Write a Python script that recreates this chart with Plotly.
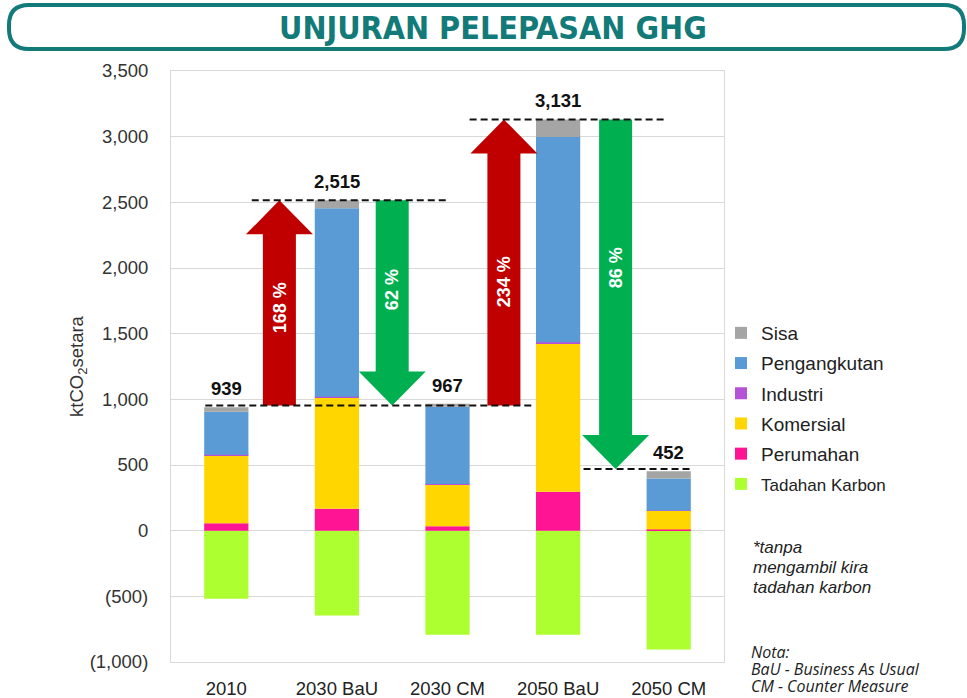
import plotly.graph_objects as go

# ---------------- data ----------------
categories = ["2010", "2030 BaU", "2030 CM", "2050 BaU", "2050 CM"]
tadahan_karbon = [-518, -645, -792, -792, -904]
perumahan = [56, 166, 33, 297, 8]
komersial = [518, 847, 319, 1129, 142]
industri = [4, 6, 4, 8, 3]
pengangkutan = [327, 1436, 588, 1564, 245]
sisa = [34, 60, 23, 133, 54]
totals = [939, 2515, 967, 3131, 452]

# arrows: from value -> to value, with labels
arrow_from = [953, 2515, 953, 3131]
arrow_to = [2515, 953, 3131, 470]
arrow_labels = ["168 %", "62 %", "234 %", "86 %"]

# dashed reference lines (value levels)
ref_levels = [953, 2515, 3131, 470]

y_tickvals = [-1000, -500, 0, 500, 1000, 1500, 2000, 2500, 3000, 3500]
y_ticktext = ["(1,000)", "(500)", "0", "500", "1,000", "1,500", "2,000", "2,500", "3,000", "3,500"]

# ---------------- style ----------------
W, H = 967, 698
ML, MR, MT, MB = 171, 243, 71, 36
PL, PR, PT, PB = ML, W - MR, MT, H - MB
XR = (-0.5, 4.5)
YR = (-1000, 3500)
PX_PER_X = (PR - PL) / (XR[1] - XR[0])
PX_PER_Y = (PB - PT) / (YR[1] - YR[0])


def paper_x(px):
    return (px - PL) / (PR - PL)


def paper_y(py):
    return (PB - py) / (PB - PT)


FONT = "Liberation Sans, Arial, Helvetica, sans-serif"
colors = {
    "Tadahan Karbon": "#adff2f",
    "Perumahan": "#ff1493",
    "Komersial": "#ffd600",
    "Industri": "#b553d6",
    "Pengangkutan": "#5b9bd5",
    "Sisa": "#a5a5a5",
}
RED = "#c00000"
GREEN = "#00b050"
TEAL = "#127a78"

xs = list(range(len(categories)))
series = [
    ("Tadahan Karbon", tadahan_karbon, 6),
    ("Perumahan", perumahan, 5),
    ("Komersial", komersial, 4),
    ("Industri", industri, 3),
    ("Pengangkutan", pengangkutan, 2),
    ("Sisa", sisa, 1),
]

fig = go.Figure()
for name, vals, rank in series:
    label = name
    if name == "Tadahan Karbon":
        label = '<span style="font-size:17px">Tadahan Karbon</span>'
    fig.add_trace(go.Bar(
        x=xs, y=vals, name=label, legendgroup=name, legendrank=rank,
        marker=dict(color=colors[name], line=dict(width=0)),
    ))

shapes = []

# arrows
arrow_x = [0.48, 1.5, 2.51, 3.52]
arrow_col = [RED, GREEN, RED, GREEN]
hs = 16.5 / PX_PER_X
hh = 33.5 / PX_PER_X
hl = 34 / PX_PER_Y
for xc, y0, y1, col in zip(arrow_x, arrow_from, arrow_to, arrow_col):
    d = 1 if y1 > y0 else -1
    yb = y1 - d * hl
    path = (f"M {xc-hs},{y0} L {xc-hs},{yb} L {xc-hh},{yb} L {xc},{y1} "
            f"L {xc+hh},{yb} L {xc+hs},{yb} L {xc+hs},{y0} Z")
    shapes.append(dict(type="path", xref="x", yref="y", path=path,
                       fillcolor=col, line=dict(width=0), layer="above"))

# dashed lines
ref_x = [(-0.19, 2.77), (0.23, 2.0), (2.2, 3.975), (3.23, 4.2)]
for (x0, x1), yv in zip(ref_x, ref_levels):
    shapes.append(dict(type="line", xref="x", yref="y", x0=x0, x1=x1, y0=yv, y1=yv,
                       line=dict(color="#111111", width=2, dash="7px,4px"), layer="above"))

# title frame (rounded rectangle), pixel coords -> paper
fl, fr, ft, fb, rad = 9, 964, 5, 49, 20
pts = (f"M {paper_x(fl+rad)},{paper_y(ft)} L {paper_x(fr-rad)},{paper_y(ft)} "
       f"Q {paper_x(fr)},{paper_y(ft)} {paper_x(fr)},{paper_y(ft+rad)} "
       f"L {paper_x(fr)},{paper_y(fb-rad)} "
       f"Q {paper_x(fr)},{paper_y(fb)} {paper_x(fr-rad)},{paper_y(fb)} "
       f"L {paper_x(fl+rad)},{paper_y(fb)} "
       f"Q {paper_x(fl)},{paper_y(fb)} {paper_x(fl)},{paper_y(fb-rad)} "
       f"L {paper_x(fl)},{paper_y(ft+rad)} "
       f"Q {paper_x(fl)},{paper_y(ft)} {paper_x(fl+rad)},{paper_y(ft)} Z")
shapes.append(dict(type="path", xref="paper", yref="paper", path=pts,
                   line=dict(color=TEAL, width=4), fillcolor="rgba(0,0,0,0)"))

annotations = []
# title
annotations.append(dict(
    text="<b>UNJURAN PELEPASAN GHG</b>", xref="paper", yref="paper",
    x=paper_x(493), y=paper_y(28), xanchor="center", yanchor="middle", showarrow=False,
    font=dict(family="DejaVu Sans Condensed, sans-serif", size=32, color=TEAL)))

# totals
for i, t in enumerate(totals):
    annotations.append(dict(
        text=f"<b>{t:,}</b>", x=i, y=t, xref="x", yref="y", yshift=18.5,
        xanchor="center", yanchor="middle", showarrow=False,
        font=dict(family=FONT, size=18.5, color="#111111")))

# arrow labels
arrow_text_y = [1697, 1833, 1898, 2002]
for xc, yt, lab in zip(arrow_x, arrow_text_y, arrow_labels):
    annotations.append(dict(
        text=f"<b>{lab}</b>", x=xc, y=yt, xref="x", yref="y", textangle=-90,
        xanchor="center", yanchor="middle", showarrow=False,
        font=dict(family=FONT, size=18, color="white")))

# notes
note1 = ["*tanpa", "mengambil kira", "tadahan karbon"]
for k, line in enumerate(note1):
    annotations.append(dict(
        text=f"<i>{line}</i>", xref="paper", yref="paper",
        x=paper_x(751), y=paper_y(547 + 20 * k), xanchor="left", yanchor="middle",
        showarrow=False, font=dict(family=FONT, size=17, color="#222222")))
note2 = ["Nota:", "BaU - Business As Usual", "CM - Counter Measure"]
for k, line in enumerate(note2):
    annotations.append(dict(
        text=f"<i>{line}</i>", xref="paper", yref="paper",
        x=paper_x(749), y=paper_y(652 + 17 * k), xanchor="left", yanchor="middle",
        showarrow=False, font=dict(family="Open Sans, sans-serif", size=16, color="#222222")))

fig.update_layout(
    width=W, height=H,
    margin=dict(l=ML, r=MR, t=MT, b=MB, autoexpand=False),
    paper_bgcolor="white", plot_bgcolor="white",
    barmode="relative", bargap=0.6,
    font=dict(family=FONT, color="#222222"),
    showlegend=True,
    legend=dict(
        x=paper_x(721), y=paper_y(314), xanchor="left", yanchor="top",
        bgcolor="rgba(0,0,0,0)", font=dict(family=FONT, size=19, color="#222222"),
        traceorder="grouped", tracegroupgap=2.5, itemwidth=30,
    ),
    xaxis=dict(
        range=list(XR), tickvals=xs, ticktext=categories,
        showgrid=False, zeroline=False, showline=True, mirror=True,
        linecolor="#d9d9d9", linewidth=1, ticks="", ticklabelstandoff=10,
        tickfont=dict(family=FONT, size=18.5, color="#222222"),
    ),
    yaxis=dict(
        range=list(YR), tickvals=y_tickvals, ticktext=y_ticktext,
        showgrid=True, gridcolor="#d9d9d9", gridwidth=1,
        zeroline=True, zerolinecolor="#d9d9d9", zerolinewidth=1,
        showline=True, mirror=True, linecolor="#d9d9d9", linewidth=1,
        ticks="", ticklabelstandoff=18,
        tickfont=dict(family=FONT, size=18.5, color="#333333"),
        title=dict(text="ktCO<sub>2</sub>setara", standoff=1,
                   font=dict(family=FONT, size=18.5, color="#333333")),
    ),
    shapes=shapes,
    annotations=annotations,
)

fig.write_html(
    "out.html",
    config={"displayModeBar": False},
    post_script="document.body.style.margin='0';document.body.style.overflow='hidden';",
)
